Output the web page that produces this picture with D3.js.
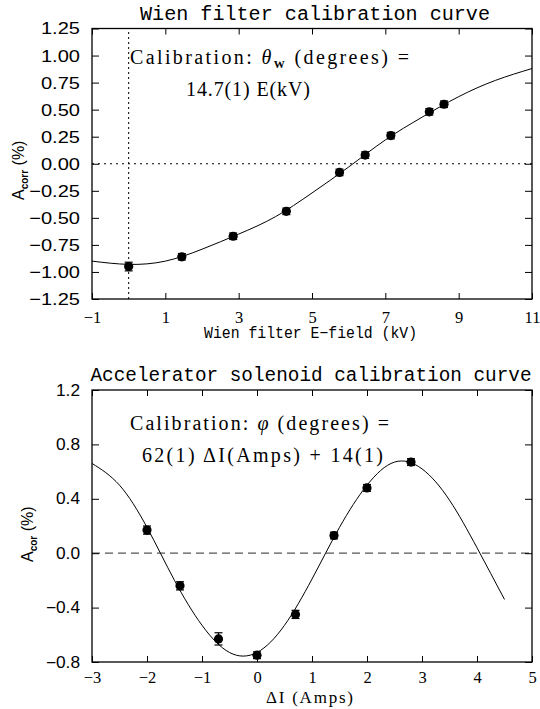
<!DOCTYPE html>
<html><head><meta charset="utf-8">
<script src="https://cdn.jsdelivr.net/npm/d3@7"></script>
<style>body{margin:0;background:#fff}svg{display:block}</style>
</head><body>
<script>
// ---- Data: Wien filter calibration ----
const wienE = [0.0, 1.45, 2.85, 4.3, 5.75, 6.45, 7.15, 8.2, 8.6];
const wienA = [-0.95, -0.86, -0.67, -0.44, -0.08, 0.08, 0.26, 0.48, 0.55];
const wienErr = [0.04, 0.03, 0.03, 0.03, 0.03, 0.03, 0.03, 0.03, 0.03];
const wienFitE = [-1, 0, 1, 2, 3, 4, 5, 6, 7, 8, 9, 10, 11];
const wienFitA = [-0.90, -0.93, -0.90, -0.79, -0.65, -0.49, -0.27, -0.03, 0.22, 0.43, 0.62, 0.77, 0.88];
const wienXTicks = [-1, 1, 3, 5, 7, 9, 11];
const wienYTicks = [-1.25, -1.0, -0.75, -0.5, -0.25, 0, 0.25, 0.5, 0.75, 1.0, 1.25];

// ---- Data: Accelerator solenoid calibration ----
const solI = [-2.0, -1.4, -0.7, 0.0, 0.7, 1.4, 2.0, 2.8];
const solA = [0.17, -0.24, -0.63, -0.75, -0.45, 0.13, 0.48, 0.67];
const solErr = [0.03, 0.03, 0.045, 0.025, 0.03, 0.025, 0.025, 0.025];
const solFitI = [-3, -2.5, -2, -1.5, -1, -0.5, 0, 0.5, 1, 1.5, 2, 2.5, 3, 3.5, 4, 4.5];
const solFitA = [0.66, 0.50, 0.19, -0.20, -0.53, -0.73, -0.73, -0.53, -0.19, 0.19, 0.50, 0.67, 0.62, 0.39, 0.04, -0.34];
const solXTicks = [-3, -2, -1, 0, 1, 2, 3, 4, 5];
const solYTicks = [-0.8, -0.4, 0.0, 0.4, 0.8, 1.2];

const W = 540, H = 709;
const svg = d3.select("body").append("svg").attr("width", W).attr("height", H);

const MONO = "'Liberation Mono', 'Courier New', monospace";
const SANS = "'Liberation Sans', Arial, sans-serif";
const SERIF = "'Liberation Serif', 'Times New Roman', serif";

function stretch(sel, k) {
  sel.each(function () {
    const w = this.getComputedTextLength();
    this.setAttribute("textLength", w * k);
    this.setAttribute("lengthAdjust", "spacingAndGlyphs");
  });
}

function panel(opt) {
  const g = svg.append("g");
  const x = d3.scaleLinear().domain(opt.xDomain).range([92, 532]);
  const y = d3.scaleLinear().domain(opt.yDomain).range(opt.yRange);
  const [y0, y1] = opt.yRange;

  opt.refs(g, x, y);

  const xb = g.append("g").attr("transform", `translate(0,${y0})`)
    .call(d3.axisBottom(x).tickValues(opt.xTicks).tickSize(-6).tickPadding(opt.xPad).tickFormat(opt.xFmt));
  const xt = g.append("g").attr("transform", `translate(0,${y1})`)
    .call(d3.axisTop(x).tickValues(opt.xTicks).tickSize(-6).tickFormat(""));
  const yl = g.append("g").attr("transform", `translate(92,0)`)
    .call(d3.axisLeft(y).tickValues(opt.yTicks).tickSize(-7).tickPadding(12).tickFormat(opt.yFmt));
  const yr = g.append("g").attr("transform", `translate(532,0)`)
    .call(d3.axisRight(y).tickValues(opt.yTicks).tickSize(-7).tickFormat(""));
  [xb, xt, yl, yr].forEach(a => { a.select(".domain").remove(); a.selectAll("line").attr("stroke", "#000").attr("stroke-width", 1); });
  xb.selectAll("text").attr("font-family", SERIF).attr("font-size", 16.5).attr("fill", "#000");
  yl.selectAll("text").attr("font-family", SANS).attr("font-size", opt.yFont).attr("fill", "#000");
  stretch(yl.selectAll("text"), opt.yStretch);

  g.append("rect").attr("x", 92).attr("y", y1).attr("width", 440).attr("height", y0 - y1)
    .attr("fill", "none").attr("stroke", "#000").attr("stroke-width", 1.3);

  const line = d3.line().x(d => x(d[0])).y(d => y(d[1])).curve(d3.curveNatural);
  g.append("path").datum(opt.fitX.map((v, i) => [v, opt.fitY[i]]))
    .attr("d", line).attr("fill", "none").attr("stroke", "#000").attr("stroke-width", 1);

  const pts = opt.px.map((v, i) => ({ x: v, y: opt.py[i], e: opt.pe[i] }));
  const eb = g.append("g").selectAll("g").data(pts).join("g");
  eb.append("line").attr("x1", d => x(d.x)).attr("x2", d => x(d.x))
    .attr("y1", d => y(d.y - d.e)).attr("y2", d => y(d.y + d.e)).attr("stroke", "#000").attr("stroke-width", 1.2);
  eb.append("line").attr("x1", d => x(d.x) - 4).attr("x2", d => x(d.x) + 4)
    .attr("y1", d => y(d.y - d.e)).attr("y2", d => y(d.y - d.e)).attr("stroke", "#000").attr("stroke-width", 1.2);
  eb.append("line").attr("x1", d => x(d.x) - 4).attr("x2", d => x(d.x) + 4)
    .attr("y1", d => y(d.y + d.e)).attr("y2", d => y(d.y + d.e)).attr("stroke", "#000").attr("stroke-width", 1.2);
  eb.append("circle").attr("cx", d => x(d.x)).attr("cy", d => y(d.y)).attr("r", 4.6).attr("fill", "#000");
  return { g, x, y };
}

// ---------- Top panel ----------
const wienPanel = panel({
  xDomain: [-1, 11], yDomain: [-1.25, 1.25], yRange: [299, 28.5],
  xTicks: wienXTicks, yTicks: wienYTicks, xPad: 12, yFont: 17, yStretch: 1.18,
  xFmt: d3.format("d"), yFmt: d3.format(".2f"),
  px: wienE, py: wienA, pe: wienErr, fitX: wienFitE, fitY: wienFitA,
  refs: (g, x, y) => {
    g.append("line").attr("x1", x(0)).attr("x2", x(0)).attr("y1", y(-1.25)).attr("y2", y(1.25))
      .attr("stroke", "#000").attr("stroke-width", 1).attr("stroke-dasharray", "2,3");
    g.append("line").attr("x1", x(-1)).attr("x2", x(11)).attr("y1", y(0)).attr("y2", y(0))
      .attr("stroke", "#000").attr("stroke-width", 1).attr("stroke-dasharray", "2,4");
  }
});
svg.append("text").attr("x", 140).attr("y", 20).attr("font-family", MONO).attr("font-size", 20)
  .attr("textLength", 350).attr("lengthAdjust", "spacingAndGlyphs").text("Wien filter calibration curve");
svg.append("text").attr("x", 204).attr("y", 338).attr("font-family", MONO).attr("font-size", 16)
  .attr("textLength", 213).attr("lengthAdjust", "spacingAndGlyphs").text("Wien filter E\u2212field (kV)");
{
  const t = svg.append("text").attr("x", 130).attr("y", 64).attr("font-family", SERIF).attr("font-size", 20)
    .attr("textLength", 279).attr("lengthAdjust", "spacing");
  t.append("tspan").text("Calibration: ");
  t.append("tspan").attr("font-style", "italic").text("\u03B8");
  t.append("tspan").attr("font-size", 11).attr("font-weight", "bold").attr("dy", 4).text("W");
  t.append("tspan").attr("dy", -4).text(" (degrees) =");
  svg.append("text").attr("x", 186).attr("y", 96).attr("font-family", SERIF).attr("font-size", 20)
    .attr("textLength", 124).attr("lengthAdjust", "spacing").text("14.7(1) E(kV)");
}
{
  const t = svg.append("text").attr("transform", "translate(24,200) rotate(-90)")
    .attr("font-family", SANS).attr("font-size", 16);
  t.append("tspan").text("A");
  t.append("tspan").attr("font-size", 10).attr("font-weight", "bold").attr("dy", 4).text("corr");
  t.append("tspan").attr("dy", -4).text(" (%)");
}

// ---------- Bottom panel ----------
const solPanel = panel({
  xDomain: [-3, 5], yDomain: [-0.8, 1.2], yRange: [662, 390],
  xTicks: solXTicks, yTicks: solYTicks, xPad: 9.5, yFont: 16, yStretch: 1.08,
  xFmt: d3.format("d"), yFmt: d3.format(".1f"),
  px: solI, py: solA, pe: solErr, fitX: solFitI, fitY: solFitA,
  refs: (g, x, y) => {
    g.append("line").attr("x1", x(-3)).attr("x2", x(5)).attr("y1", y(0)).attr("y2", y(0))
      .attr("stroke", "#555").attr("stroke-width", 1.3).attr("stroke-dasharray", "8,5");
  }
});
svg.append("text").attr("x", 90.5).attr("y", 381).attr("font-family", MONO).attr("font-size", 19.4)
  .attr("textLength", 441).attr("lengthAdjust", "spacingAndGlyphs").text("Accelerator solenoid calibration curve");
{
  const t = svg.append("text").attr("x", 130).attr("y", 430).attr("font-family", SERIF).attr("font-size", 20)
    .attr("textLength", 259).attr("lengthAdjust", "spacing");
  t.append("tspan").text("Calibration: ");
  t.append("tspan").attr("font-style", "italic").text("\u03C6");
  t.append("tspan").text(" (degrees) =");
  svg.append("text").attr("x", 142).attr("y", 462).attr("font-family", SERIF).attr("font-size", 20)
    .attr("textLength", 241).attr("lengthAdjust", "spacing").text("62(1) \u0394I(Amps) + 14(1)");
}
svg.append("text").attr("x", 266).attr("y", 703).attr("font-family", SERIF).attr("font-size", 17)
  .attr("textLength", 87).attr("lengthAdjust", "spacing").text("\u0394I (Amps)");
{
  const t = svg.append("text").attr("transform", "translate(33,562) rotate(-90)")
    .attr("font-family", SANS).attr("font-size", 16);
  t.append("tspan").text("A");
  t.append("tspan").attr("font-size", 10).attr("font-weight", "bold").attr("dy", 4).text("cor");
  t.append("tspan").attr("dy", -4).text(" (%)");
}
</script>
</body></html>
